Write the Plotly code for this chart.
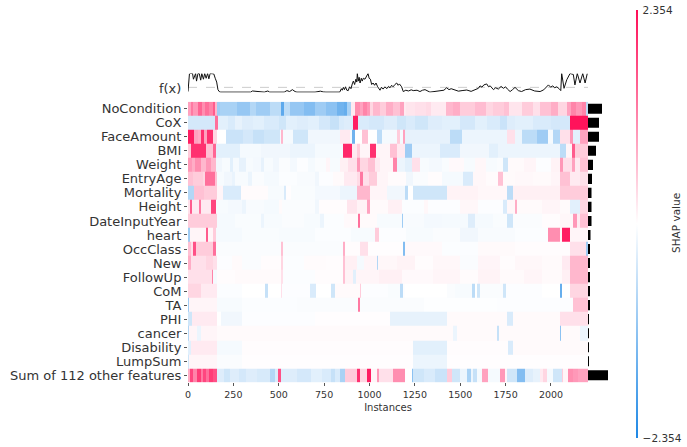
import numpy as np
import plotly.graph_objects as go

FEATURES = ["NoCondition","CoX","FaceAmount","BMI","Weight","EntryAge","Mortality","Height","DateInputYear","heart",
            "OccClass","New","FollowUp","CoM","TA","PHI","cancer","Disability","LumpSum","Sum of 112 other features"]
BAR_VALUES = [14,11,11,8,5,4,3.5,3.5,3.5,2.5,2,2,2,1.5,1.5,1,1,1,1,20]
VMAX = 2.354
X_TICKS = [0,250,500,750,1000,1250,1500,1750,2000]

NoCondition_x = [15,30,55,75,95,115,135,150,160,175,270,340,375,450,510,530,560,640,700,760,820,860,878,896,920,945,965,985,1003,1020,1060,1090,1130,1170,1190,1200,1250,1310,1340,1420,1460,1500,1580,1640,1680,1740,1770,1840,1900,1940,2000,2040,2090,2110,2140,2170,2195,2204]
NoCondition_v = [0.9,1.3,1.0,1.5,1.1,1.4,1.2,1.6,0.7,-1.0,-0.9,-1.1,-0.8,-1.0,-0.7,-1.7,-0.7,-1.1,-1.3,-1.0,-1.2,-1.5,-1.6,-0.9,0.2,1.1,0.9,1.2,1.0,0.4,0.7,0.5,0.8,0.6,0.9,0.2,0.25,0.3,0.35,0.2,0.7,0.8,0.5,0.65,0.4,0.5,0.6,0.25,0.5,0.3,0.6,0.8,0.4,0.9,1.2,1.0,1.2,-0.7]
CoX_x = [150,165,220,260,300,360,420,500,540,600,660,720,780,830,860,911,938,1000,1080,1150,1200,1250,1320,1400,1500,1580,1650,1720,1760,1800,1900,2000,2105,2204]
CoX_v = [-0.45,1.4,-0.3,-0.4,-0.25,-0.35,-0.3,-0.4,-0.5,-0.3,-0.35,-0.3,-0.45,-0.6,-0.4,-0.35,2.2,-0.4,-0.45,-0.35,-0.5,-0.4,-0.5,-0.35,-0.3,-0.45,-0.3,-0.4,-0.55,-0.35,-0.3,-0.4,-0.45,2.3]
FaceAmount_x = [35,55,70,90,105,140,160,211,303,360,420,505,515,523,579,661,837,890,902,920,957,994,1040,1067,1150,1168,1186,1196,1444,1508,1756,1802,1838,1921,1986,2013,2050,2105,2120,2160,2204]
FaceAmount_v = [2.2,0.9,0.8,2.0,0.9,2.0,0.4,0.0,-0.55,-0.45,-0.6,-0.5,-0.1,0.7,-0.1,-0.5,-0.15,0.2,-0.1,-1.5,0.0,0.6,0.0,-0.7,-0.1,0.5,-0.1,0.9,-0.25,-0.7,-0.2,0.3,-0.2,-0.7,-1.0,-0.1,-0.8,0.3,1.0,-0.3,0.9]
BMI_x = [18,100,138,156,284,400,560,700,855,902,930,948,1003,1036,1113,1150,1196,1233,1390,1500,1660,1710,2050,2080,2114,2132,2204]
BMI_v = [0.5,2.0,0.6,1.5,-0.3,-0.1,-0.15,-0.2,-0.1,2.1,0.2,0.5,0.1,2.0,0.1,0.6,0.2,-1.0,-0.2,-0.4,-0.15,-0.3,-0.2,-0.7,0.1,1.6,0.5]
Weight_x = [20,40,70,100,125,155,190,230,250,280,320,360,400,420,470,500,560,600,660,700,760,780,840,880,930,948,990,1030,1060,1131,1150,1196,1233,1278,1330,1400,1440,1520,1580,1640,1700,1738,1765,1850,1920,2000,2050,2068,2114,2132,2160,2204]
Weight_v = [1.0,0.8,1.1,0.7,1.0,0.7,-0.15,-0.08,-0.3,-0.1,-0.25,-0.08,-0.12,-0.25,-0.08,-0.15,-0.05,-0.12,-0.03,-0.1,-0.05,0.1,-0.08,0.15,0.3,1.0,0.4,0.6,0.2,0.1,1.2,-0.2,-0.3,0.3,-0.08,-0.12,-0.06,0.06,-0.08,0.08,-0.08,-0.05,-0.5,0.05,0.1,-0.03,0.12,1.0,0.3,0.9,0.2,0.6]
EntryAge_x = [30,85,92,147,160,200,240,260,330,350,420,500,600,700,720,800,860,930,948,966,1000,1040,1100,1200,1240,1320,1400,1517,1572,1640,1710,1738,1800,1900,2000,2050,2105,2160,2204]
EntryAge_v = [0.6,0.5,0.4,1.4,0.6,-0.08,-0.15,-0.22,-0.08,-0.2,-0.05,-0.1,-0.04,-0.07,-0.15,-0.03,0.05,0.2,0.35,1.3,0.3,0.5,0.1,0.04,-0.15,-0.05,0.03,-0.1,-0.4,0.08,0.04,0.6,0.05,0.07,0.05,0.1,0.6,0.2,0.3]
Mortality_x = [35,90,160,193,294,440,530,542,570,700,837,930,1003,1095,1196,1214,1241,1425,1600,1756,1793,2050,2204]
Mortality_v = [-0.8,0.6,0.5,0.1,-0.4,0.04,-0.08,-0.4,0.02,-0.06,-0.12,-0.2,0.7,0.1,-0.15,-0.7,0.0,-0.5,0.12,0.08,-0.7,0.15,0.5]
Height_x = [9,24,60,70,129,156,220,300,320,420,500,520,700,720,875,930,984,1003,1100,1180,1300,1320,1500,1600,1738,1756,1802,1812,1950,2050,2105,2160,2204]
Height_v = [0.3,1.6,0.2,1.3,0.2,1.8,-0.08,-0.12,-0.2,-0.07,-0.1,0.05,-0.05,-0.15,0.03,0.25,0.12,0.9,0.05,0.15,-0.04,0.08,-0.03,0.08,-0.03,-0.4,0.08,0.8,0.05,0.1,0.05,-0.3,0.4]
DateInputYear_x = [50,160,260,400,420,520,640,730,750,860,938,945,1040,1177,1186,1300,1400,1545,1582,1680,1756,1793,1950,2050,2123,2141,2160,2204]
DateInputYear_v = [0.5,0.5,-0.1,-0.06,-0.2,-0.08,-0.05,-0.08,-0.2,-0.04,0.06,1.4,0.05,-0.08,-1.0,-0.07,-0.12,-0.1,-0.35,-0.1,-0.06,-0.5,-0.05,0.03,0.08,1.0,0.2,0.6]
heart_x = [10,98,110,135,155,300,500,700,900,1030,1050,1200,1350,1500,1600,1800,1986,2050,2059,2105,2204]
heart_v = [-1.0,0.1,1.6,0.1,0.5,-0.1,-0.06,-0.08,-0.04,-0.08,0.5,-0.03,-0.08,-0.05,-0.15,-0.07,-0.04,1.1,0.1,2.2,0.1]
OccClass_x = [15,28,46,138,152,515,523,855,865,950,994,1186,1196,1400,1600,1800,2105,2195,2204]
OccClass_v = [0.6,0.3,1.7,0.5,1.4,-0.05,0.6,-0.05,0.8,0.03,0.3,0.02,-1.3,0.06,-0.04,0.05,0.03,0.3,-1.0]
New_x = [15,100,135,160,240,300,400,515,525,640,760,855,865,930,970,1040,1045,1150,1250,1350,1500,1600,1720,1800,1950,2060,2105,2204]
New_v = [0.8,0.3,0.4,0.3,-0.03,0.05,-0.05,0.03,0.4,-0.04,0.04,0.03,0.6,0.15,-0.1,0.1,-0.8,0.08,0.12,0.03,0.08,-0.05,0.1,0.03,0.08,0.05,0.2,0.7]
FollowUp_x = [130,140,160,260,515,525,700,855,865,910,925,1050,1180,1350,1500,1600,1720,1850,1950,2060,2105,2204]
FollowUp_v = [0.3,1.2,-0.1,0.03,0.05,0.3,-0.04,0.03,0.6,0.12,-0.3,0.1,0.15,0.06,0.1,0.04,0.12,0.05,0.1,0.05,0.15,0.7]
CoM_x = [70,160,300,422,440,515,520,670,706,790,808,945,955,1100,1168,1186,1196,1425,1471,1563,1581,1590,1608,1738,1750,1950,2050,2059,2105,2204]
CoM_v = [0.4,0.2,-0.04,0.0,-0.6,0.0,0.3,-0.03,-0.4,0.0,-0.5,0.05,0.5,-0.03,-0.06,-0.7,-0.03,0.0,-0.05,-0.08,-0.7,0.0,-0.5,-0.05,-0.5,-0.03,0.0,-1.6,0.0,0.4]
TA_x = [6,160,300,600,938,948,1300,1700,2123,2204]
TA_v = [-1.0,0.1,-0.08,-0.04,-0.05,1.3,-0.05,-0.02,-0.03,0.6]
PHI_x = [20,160,180,300,700,1113,1425,1756,1793,2050,2204]
PHI_v = [-0.5,0.2,0.0,-0.15,-0.03,0.02,-0.25,0.05,-0.4,0.05,0.3]
cancer_x = [6,50,70,160,1460,1480,1700,1715,2050,2057,2160,2204]
cancer_v = [-0.8,0.1,-0.2,0.1,0.05,-0.2,0.05,-0.6,0.05,-1.2,0.05,-0.2]
Disability_x = [15,160,300,1241,1425,1765,1793,2204]
Disability_v = [-0.3,0.2,-0.1,0.03,-0.3,0.03,-0.4,0.05]
LumpSum_x = [5,160,300,1241,1425,2204]
LumpSum_v = [-0.5,0.1,-0.05,0.02,-0.2,0.02]
Other_x = [12,30,48,70,85,100,118,135,160,200,230,280,320,380,450,480,496,514,600,680,740,790,808,837,865,930,948,984,1008,1040,1055,1131,1196,1233,1242,1300,1360,1425,1452,1497,1535,1557,1572,1590,1618,1655,1719,1747,1756,1811,1857,1900,1940,1958,1976,2013,2059,2068,2095,2123,2150,2204]
Other_v = [0.8,1.8,1.2,1.9,1.3,1.8,1.4,1.9,1.7,-0.35,-0.5,-0.35,-0.45,-0.35,-0.42,-0.8,-0.4,1.7,-0.35,-0.45,-0.3,-0.4,-0.6,-0.4,-0.9,0.5,2.0,0.4,2.2,0.1,1.0,0.3,1.1,0.0,-1.2,-0.5,-0.4,-0.55,0.5,-0.5,-0.2,-0.9,-0.2,-0.6,-0.1,0.9,-0.1,1.0,0.1,-0.5,-1.3,-0.35,-0.25,0.2,0.4,-0.1,-0.5,0.5,0.1,1.1,1.0,0.9]

FX_X = [0,4,8,12,25,30,42,47,55,62,70,76,85,92,100,108,115,122,130,142,150,158,165,172,180,260,270,285,300,345,355,420,440,450,530,545,560,575,590,600,700,730,745,760,836,845,850,856,862,868,875,883,890,898,905,911,918,925,930,933,938,943,948,955,960,966,975,985,992,998,1005,1012,1020,1028,1036,1045,1058,1066,1075,1085,1095,1105,1113,1122,1130,1140,1150,1158,1165,1177,1186,1200,1215,1230,1241,1262,1278,1292,1306,1333,1360,1389,1410,1425,1438,1450,1471,1490,1510,1536,1560,1581,1600,1609,1620,1630,1646,1656,1665,1683,1695,1710,1725,1738,1750,1760,1775,1788,1802,1820,1838,1860,1884,1910,1940,1960,1970,1986,1998,2010,2020,2032,2045,2054,2059,2072,2087,2105,2123,2132,2145,2160,2175,2188,2200]
FX_V = [0.05,0.6,0.98,1,1,0.7,1,0.6,1,1,0.65,1,0.7,1,0.75,1,0.72,1,0.98,0.98,0.75,0.55,0.15,0.05,0.02,0.02,0.05,0.02,0.02,0.02,0.08,0.02,0.08,0.02,0.02,0.1,0.05,0.15,0.05,0.02,0.02,0.07,0.03,0.02,0.02,0.2,0.12,0.27,0.15,0.3,0.12,0.1,0.3,0.2,0.45,0.6,0.42,0.7,0.55,1,0.6,0.8,0.5,0.75,0.6,0.75,0.7,0.9,1,0.75,0.7,0.42,0.5,0.38,0.5,0.3,0.12,0.28,0.18,0.3,0.2,0.32,0.25,0.38,0.3,0.42,0.5,0.38,0.45,0.3,0.05,0.12,0.08,0.14,0.1,0.12,0.05,0.12,0.15,0.02,0.06,0.08,0.12,0.25,0.15,0.2,0.13,0.07,0.1,0.13,0.06,0.13,0.22,0.35,0.28,0.4,0.45,0.3,0.35,0.15,0.25,0.18,0.32,0.22,0.3,0.18,0.05,0.15,0.27,0.1,0.05,0.15,0.18,0.08,0.05,0.14,0.22,0.4,0.28,0.35,0.25,0.3,0.2,0.1,1,0.22,0.67,1,0.95,0.4,1,0.5,1,0.5,1]
FX_BASE = 0.27

rows_x = [NoCondition_x,CoX_x,FaceAmount_x,BMI_x,Weight_x,EntryAge_x,Mortality_x,Height_x,DateInputYear_x,heart_x,
          OccClass_x,New_x,FollowUp_x,CoM_x,TA_x,PHI_x,cancer_x,Disability_x,LumpSum_x,Other_x]
rows_v = [NoCondition_v,CoX_v,FaceAmount_v,BMI_v,Weight_v,EntryAge_v,Mortality_v,Height_v,DateInputYear_v,heart_v,
          OccClass_v,New_v,FollowUp_v,CoM_v,TA_v,PHI_v,cancer_v,Disability_v,LumpSum_v,Other_v]
for name, rx, rv in zip(FEATURES, rows_x, rows_v):
    assert len(rx) == len(rv), (name, len(rx), len(rv))
assert len(FX_X) == len(FX_V), (len(FX_X), len(FX_V))

edges = np.array(sorted({0} | {e for r in rows_x for e in r}), dtype=float)
mids = (edges[:-1] + edges[1:]) / 2
z = [np.array(v)[np.searchsorted(np.array(x), mids)] for x, v in zip(rows_x, rows_v)]

W, H = 687, 447
CS = [[0,"#1e88e5"],[0.5,"#ffffff"],[1,"#ff0d57"]]
TXT = "#333333"
fig = go.Figure()
fig.add_trace(go.Heatmap(z=z, x=edges, y=FEATURES, zmin=-VMAX, zmax=VMAX, colorscale=CS, xaxis="x", yaxis="y",
    colorbar=dict(thickness=1, thicknessmode="pixels", len=428, lenmode="pixels", x=636/W, xanchor="left",
                  y=1-224/H, yanchor="middle", outlinewidth=0, tickvals=[-VMAX,VMAX], xpad=0, ypad=0,
                  ticktext=["\u22122.354","2.354"], ticklen=4, tickcolor="rgba(0,0,0,0)", tickfont=dict(size=10.5,color=TXT), ticks="outside",
                  title=dict(text="")), hoverinfo="skip"))
fig.add_trace(go.Bar(x=BAR_VALUES, y=FEATURES, orientation="h", width=0.72, marker=dict(color="#000000",line_width=0),
                     xaxis="x2", yaxis="y", showlegend=False))
fig.add_trace(go.Scatter(x=[0,2204], y=[FX_BASE,FX_BASE], mode="lines", line=dict(color="#cccccc",width=1,dash="dash"),
                         xaxis="x", yaxis="y2", showlegend=False))
fig.add_trace(go.Scatter(x=FX_X, y=FX_V, mode="lines", line=dict(color="#111111",width=1), xaxis="x", yaxis="y2", showlegend=False))

fig.update_layout(width=W, height=H, margin=dict(l=0,r=0,t=0,b=0,autoexpand=False), paper_bgcolor="white", plot_bgcolor="white",
    showlegend=False, font=dict(family="DejaVu Sans", color=TXT),
    xaxis=dict(domain=[188/W,588/W], range=[0,2204], anchor="y", tickvals=X_TICKS, ticks="outside", ticklen=3, tickcolor="#555555",
               tickfont=dict(size=9.5,color=TXT), showgrid=False, zeroline=False, showline=False,
               title=dict(text="Instances", font=dict(size=10,color=TXT), standoff=5)),
    yaxis=dict(domain=[1-382.3/H,1-101.7/H], autorange="reversed", type="category", categoryorder="array", categoryarray=FEATURES,
               tickmode="array", tickvals=FEATURES, ticks="outside", ticklen=3, tickcolor="#555555", tickfont=dict(size=13,color=TXT), showgrid=False, zeroline=False, showline=False),
    xaxis2=dict(domain=[588/W,612/W], range=[0,24], anchor="free", position=0, visible=False),
    yaxis2=dict(domain=[1-92.5/H,1-73.5/H], range=[0,1], anchor="x", tickvals=[0.2], ticktext=["f(x)"], ticks="outside", ticklen=3, tickcolor="rgba(0,0,0,0)",
                tickfont=dict(size=13,color=TXT), showgrid=False, zeroline=False, showline=False),
    annotations=[dict(text="SHAP value", x=676/W, y=1-223/H, xref="paper", yref="paper", textangle=-90, showarrow=False,
                      font=dict(size=10.5,color=TXT), xanchor="center", yanchor="middle")])
fig.write_html("out.html", config={"displayModeBar": False}, post_script="document.body.style.margin='0';")
